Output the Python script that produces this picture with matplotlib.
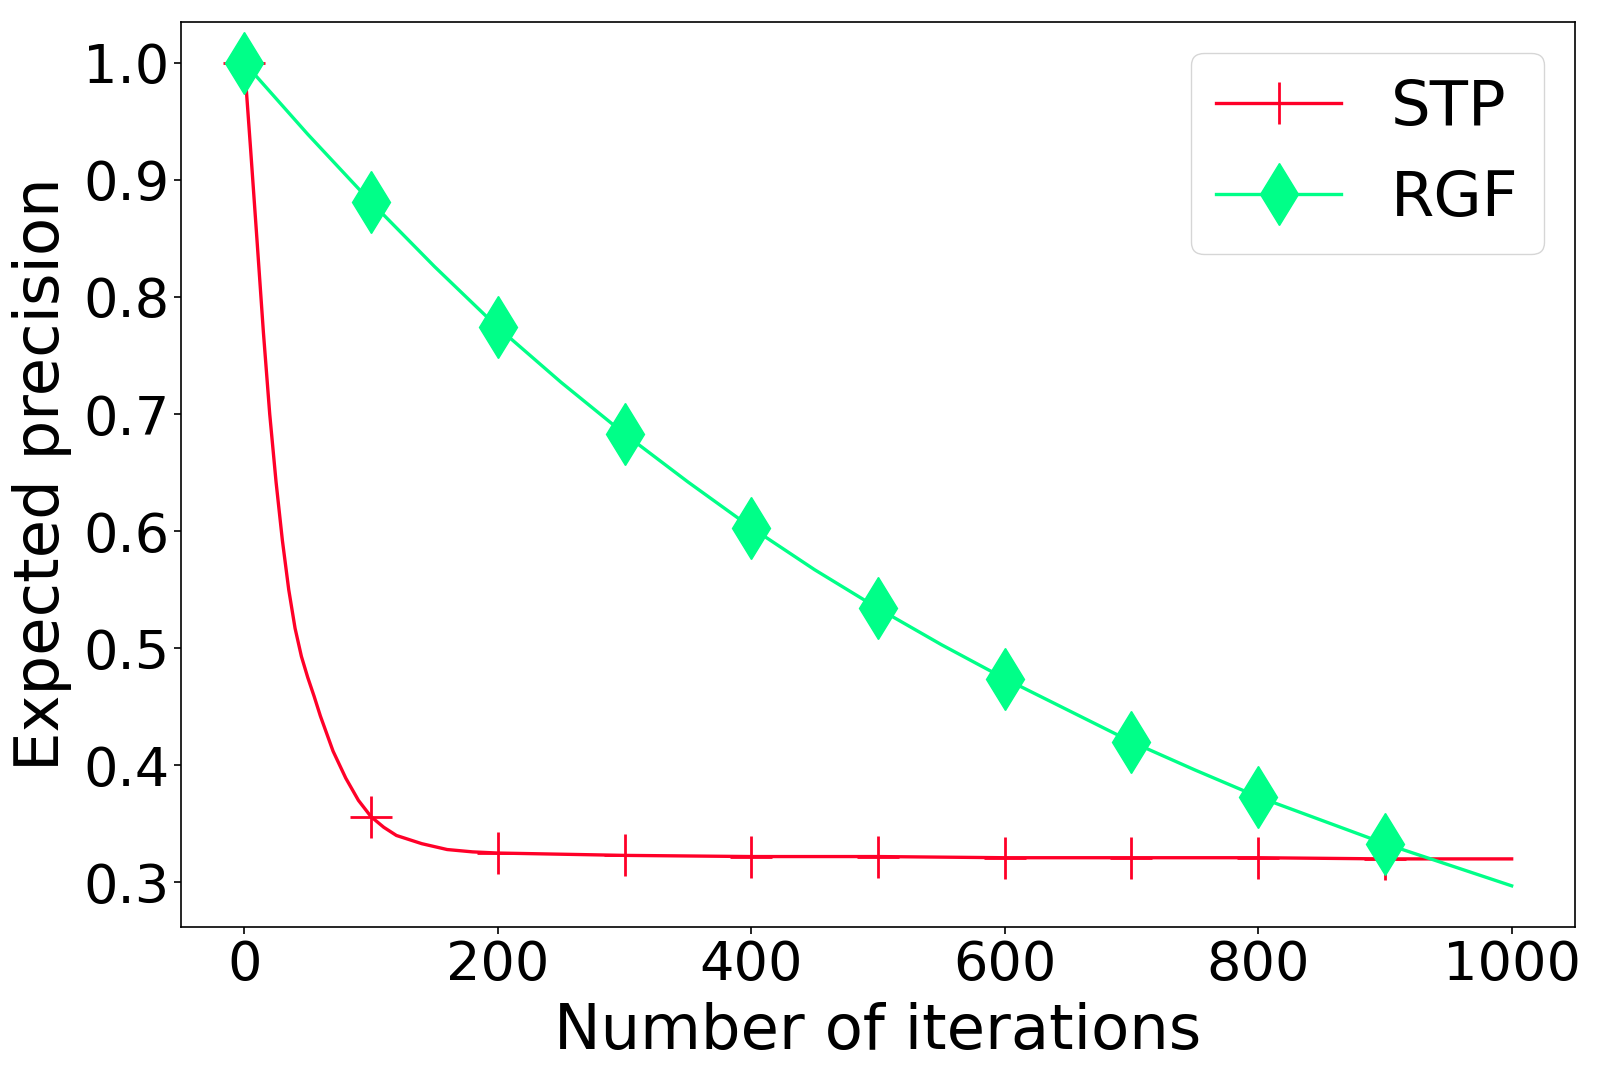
import matplotlib
matplotlib.use('Agg')
import matplotlib.pyplot as plt

# values
stp_iter = [0, 5, 10, 15, 20, 25, 30, 35, 40, 45, 50, 55, 60, 70, 80, 90, 100,
            110, 120, 140, 160, 180, 200, 300, 400, 500, 600, 700, 800, 900, 1000]
stp_prec = [1.000, 0.925, 0.848, 0.770, 0.700, 0.642, 0.592, 0.550, 0.517, 0.493, 0.475,
            0.459, 0.442, 0.412, 0.389, 0.370, 0.356, 0.347, 0.340, 0.333, 0.328, 0.326,
            0.325, 0.323, 0.322, 0.322, 0.321, 0.321, 0.321, 0.320, 0.320]

rgf_iter = [0, 50, 100, 150, 200, 250, 300, 350, 400, 450, 500,
            550, 600, 650, 700, 750, 800, 850, 900, 950, 1000]
rgf_prec = [1.000, 0.939, 0.881, 0.826, 0.774, 0.727, 0.683, 0.642, 0.603, 0.567, 0.534,
            0.503, 0.474, 0.447, 0.420, 0.396, 0.373, 0.353, 0.333, 0.315, 0.297]

# markers every 100 iterations (none on the last point)
stp_marks = [i for i, x in enumerate(stp_iter) if x % 100 == 0 and x < 1000]
rgf_marks = [i for i, x in enumerate(rgf_iter) if x % 100 == 0 and x < 1000]

fig = plt.figure(figsize=(15.99, 10.78), dpi=100)
ax = fig.add_axes([0.1132, 0.1401, 0.985 - 0.1132, 0.9799 - 0.1401])

ax.plot(stp_iter, stp_prec, color='#ff0028', lw=2.4, marker='+', ms=30, mew=2,
        markevery=stp_marks, label='STP')
ax.plot(rgf_iter, rgf_prec, color='#00ff88', lw=2.4, marker='d', ms=32,
        markevery=rgf_marks, label='RGF')

ax.set_xticks([0, 200, 400, 600, 800, 1000])
ax.set_yticks([0.3, 0.4, 0.5, 0.6, 0.7, 0.8, 0.9, 1.0])
ax.tick_params(labelsize=39, length=5, width=1.2)
for s in ax.spines.values():
    s.set_linewidth(1.2)

ax.set_xlabel('Number of iterations', fontsize=45, labelpad=8)
ax.set_ylabel('Expected precision', fontsize=45, labelpad=8)
ax.legend(loc='upper right', fontsize=45)

plt.savefig('out.png', dpi=100)
